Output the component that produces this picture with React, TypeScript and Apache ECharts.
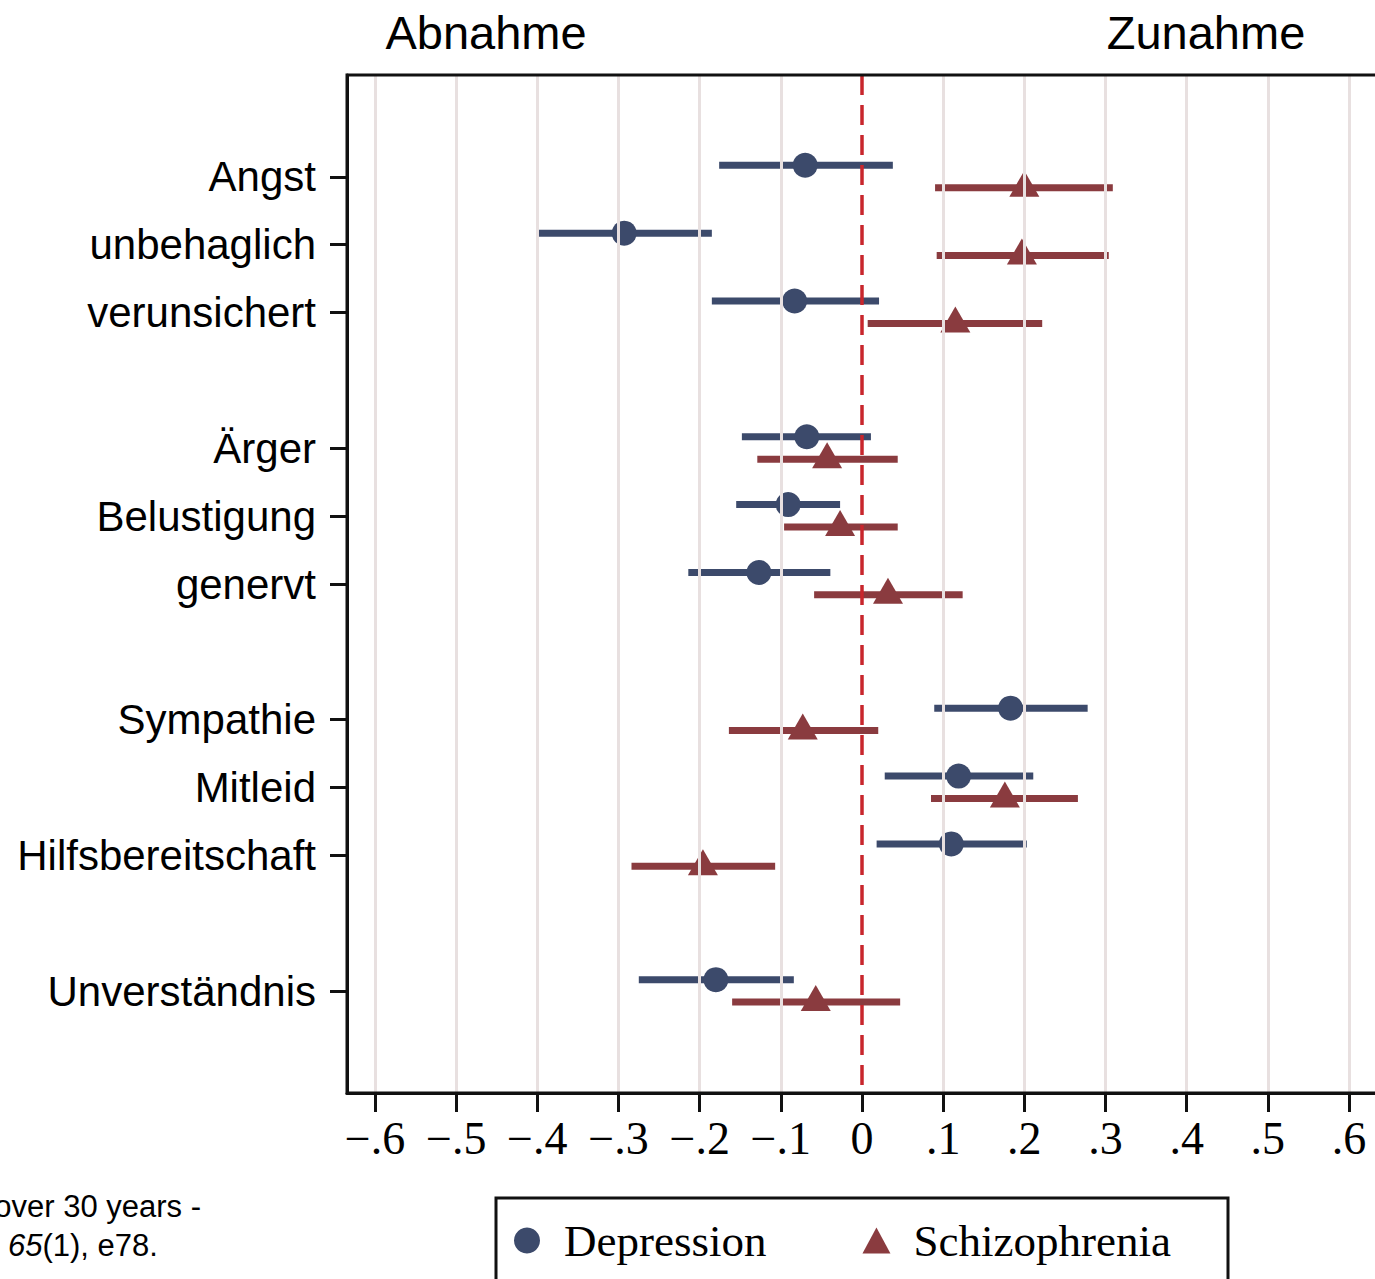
import React, { useEffect, useRef } from "react";
import * as echarts from "echarts";

const categories = [
  "Angst",
  "unbehaglich",
  "verunsichert",
  "Ärger",
  "Belustigung",
  "genervt",
  "Sympathie",
  "Mitleid",
  "Hilfsbereitschaft",
  "Unverständnis",
];
// row slot on the vertical axis (gaps between the groups)
const rowSlots = [1, 2, 3, 5, 6, 7, 9, 10, 11, 13];

const depEst = [-0.07, -0.293, -0.083, -0.068, -0.091, -0.127, 0.183, 0.119, 0.11, -0.18];
const depLow = [-0.176, -0.399, -0.185, -0.148, -0.155, -0.214, 0.089, 0.028, 0.018, -0.275];
const depHigh = [0.038, -0.185, 0.021, 0.011, -0.027, -0.039, 0.278, 0.211, 0.203, -0.084];

const schEst = [0.2, 0.197, 0.115, -0.043, -0.027, 0.032, -0.073, 0.176, -0.196, -0.057];
const schLow = [0.09, 0.092, 0.007, -0.129, -0.096, -0.059, -0.164, 0.085, -0.284, -0.16];
const schHigh = [0.309, 0.304, 0.222, 0.044, 0.044, 0.124, 0.02, 0.266, -0.107, 0.047];

const xTicks = [-0.6, -0.5, -0.4, -0.3, -0.2, -0.1, 0, 0.1, 0.2, 0.3, 0.4, 0.5, 0.6];
const xTickLabels = ["−.6", "−.5", "−.4", "−.3", "−.2", "−.1", "0", ".1", ".2", ".3", ".4", ".5", ".6"];

const seriesNames = ["Depression", "Schizophrenia"];

const NAVY = "#3c4a6b";
const MAROON = "#8a3b3f";
const DEP_OFF = -0.17;
const SCH_OFF = 0.16;

export default function App() {
  const ref = useRef<HTMLDivElement>(null);

  useEffect(() => {
    if (!ref.current) return;
    const chart = echarts.init(ref.current, undefined, { renderer: "svg" });

    const barRender = (color: string) => (params: any, api: any) => {
      const y = api.value(2);
      const p1 = api.coord([api.value(0), y]);
      const p2 = api.coord([api.value(1), y]);
      return {
        type: "line",
        shape: { x1: p1[0], y1: p1[1], x2: p2[0], y2: p2[1] },
        style: { stroke: color, lineWidth: 7, lineCap: "butt" },
      };
    };

    const depBars = categories.map((_, i) => [depLow[i], depHigh[i], rowSlots[i] + DEP_OFF]);
    const schBars = categories.map((_, i) => [schLow[i], schHigh[i], rowSlots[i] + SCH_OFF]);
    const depPts = categories.map((_, i) => [depEst[i], rowSlots[i] + DEP_OFF]);
    const schPts = categories.map((_, i) => [schEst[i], rowSlots[i] + SCH_OFF]);

    const option: any = {
      animation: false,
      backgroundColor: "#ffffff",
      grid: {
        left: 347,
        top: 75,
        width: 1040,
        height: 1018,
        show: true,
        borderColor: "#111",
        borderWidth: 3,
        backgroundColor: "transparent",
        z: 10,
      },
      xAxis: {
        type: "value",
        min: -0.6345,
        max: 0.6468,
        axisLine: { show: true, onZero: false, lineStyle: { color: "#111", width: 3 } },
        axisTick: {
          show: true,
          customValues: xTicks,
          length: 19,
          lineStyle: { color: "#111", width: 3 },
        },
        axisLabel: {
          customValues: xTicks,
          formatter: (v: number) => xTickLabels[Math.round(v * 10) + 6],
          fontFamily: "Liberation Serif",
          fontSize: 46,
          color: "#000",
          margin: 22,
        },
        splitLine: { show: false },
      },
      yAxis: {
        type: "value",
        inverse: true,
        min: -0.5,
        max: 14.5,
        axisLine: { show: true, onZero: false, lineStyle: { color: "#111", width: 3 } },
        axisTick: {
          show: true,
          customValues: rowSlots,
          length: 17,
          lineStyle: { color: "#111", width: 3 },
        },
        axisLabel: {
          customValues: rowSlots,
          formatter: (v: number) => categories[rowSlots.indexOf(Math.round(v))],
          fontFamily: "Liberation Sans",
          fontSize: 42,
          color: "#000",
          margin: 31,
        },
        splitLine: { show: false },
      },
      legend: {
        left: 509,
        top: 1213,
        itemWidth: 28,
        itemHeight: 26,
        itemGap: 96,
        data: [
          { name: seriesNames[0], icon: "circle" },
          { name: seriesNames[1], icon: "triangle" },
        ],
        textStyle: {
          fontFamily: "Liberation Serif",
          fontSize: 45,
          color: "#000",
          padding: [0, 0, 0, 18],
        },
        selectedMode: false,
      },
      graphic: [
        {
          type: "rect",
          shape: { x: 496, y: 1198, width: 732, height: 130 },
          style: { fill: "none", stroke: "#111", lineWidth: 3 },
        },
        {
          type: "text",
          x: 486,
          y: 32,
          style: {
            text: "Abnahme",
            fontFamily: "Liberation Sans",
            fontSize: 47,
            fill: "#000",
            align: "center",
            verticalAlign: "middle",
          },
        },
        {
          type: "text",
          x: 1206,
          y: 32,
          style: {
            text: "Zunahme",
            fontFamily: "Liberation Sans",
            fontSize: 47,
            fill: "#000",
            align: "center",
            verticalAlign: "middle",
          },
        },
        {
          type: "text",
          x: 201,
          y: 1206,
          style: {
            text: "over 30 years -",
            fontFamily: "Liberation Sans",
            fontSize: 31,
            fill: "#000",
            align: "right",
            verticalAlign: "middle",
          },
        },
        {
          type: "text",
          x: 8,
          y: 1245,
          style: {
            text: "{i|65}(1), e78.",
            fontFamily: "Liberation Sans",
            fontSize: 31,
            fill: "#000",
            align: "left",
            verticalAlign: "middle",
            rich: {
              i: { fontStyle: "italic", fontFamily: "Liberation Sans", fontSize: 31, fill: "#000" },
            },
          },
        },
      ],
      series: [
        {
          name: "grid",
          type: "line",
          data: [],
          silent: true,
          z: 1,
          markLine: {
            silent: true,
            symbol: "none",
            label: { show: false },
            lineStyle: { color: "#e8e0e0", width: 3, type: "solid" },
            data: xTicks.filter((t) => t !== 0).map((t) => ({ xAxis: t })),
          },
        },
        {
          name: "zero",
          type: "line",
          data: [],
          silent: true,
          z: 2,
          markLine: {
            silent: true,
            symbol: "none",
            label: { show: false },
            lineStyle: { color: "#c8262c", width: 3.5, type: [20, 10] },
            data: [{ xAxis: 0 }],
          },
        },
        {
          name: "depBars",
          type: "custom",
          renderItem: barRender(NAVY),
          encode: { x: [0, 1], y: 2 },
          data: depBars,
          z: 3,
        },
        {
          name: "schBars",
          type: "custom",
          renderItem: barRender(MAROON),
          encode: { x: [0, 1], y: 2 },
          data: schBars,
          z: 3,
        },
        {
          name: seriesNames[0],
          type: "scatter",
          symbol: "circle",
          symbolSize: 25,
          itemStyle: { color: NAVY, opacity: 1 },
          data: depPts,
          z: 4,
        },
        {
          name: seriesNames[1],
          type: "scatter",
          symbol: "triangle",
          symbolSize: [30, 26],
          symbolOffset: [0, -4],
          itemStyle: { color: MAROON, opacity: 1 },
          data: schPts,
          z: 4,
        },
      ],
    };

    chart.setOption(option);
    return () => chart.dispose();
  }, []);

  return (
    <div
      ref={ref}
      style={{ position: "fixed", left: 0, top: 0, width: 1400, height: 1279, background: "#fff" }}
    />
  );
}
